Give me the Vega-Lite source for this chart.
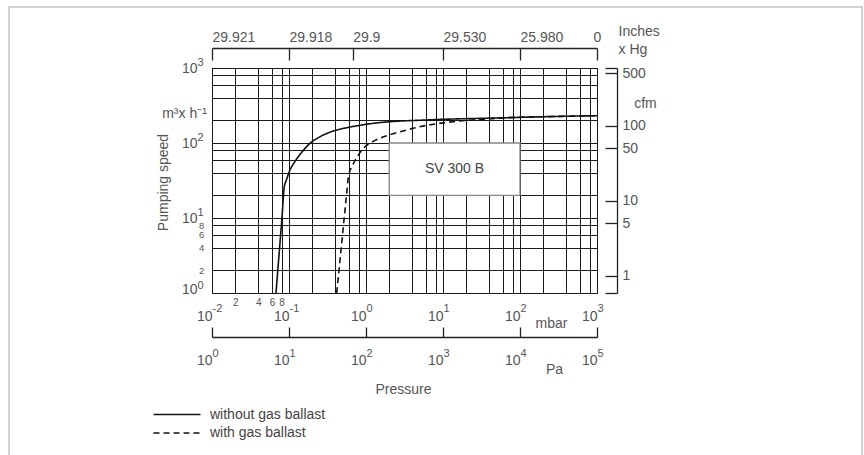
{
  "$schema": "https://vega.github.io/schema/vega-lite/v6.json",
  "width": 385,
  "height": 225,
  "autosize": {"type": "none"},
  "padding": {"left": 212, "top": 68, "right": 267, "bottom": 162},
  "background": "white",
  "data": {
    "values": [
      {"series": "without gas ballast", "p": 0.0678, "s": 1},
      {"series": "without gas ballast", "p": 0.0738, "s": 3},
      {"series": "without gas ballast", "p": 0.081, "s": 10},
      {"series": "without gas ballast", "p": 0.0868, "s": 26},
      {"series": "without gas ballast", "p": 0.0914, "s": 31},
      {"series": "without gas ballast", "p": 0.097, "s": 37},
      {"series": "without gas ballast", "p": 0.103, "s": 43.7},
      {"series": "without gas ballast", "p": 0.116, "s": 54},
      {"series": "without gas ballast", "p": 0.132, "s": 65.7},
      {"series": "without gas ballast", "p": 0.157, "s": 82},
      {"series": "without gas ballast", "p": 0.187, "s": 99},
      {"series": "without gas ballast", "p": 0.238, "s": 117},
      {"series": "without gas ballast", "p": 0.303, "s": 133},
      {"series": "without gas ballast", "p": 0.416, "s": 149},
      {"series": "without gas ballast", "p": 0.619, "s": 163},
      {"series": "without gas ballast", "p": 1.245, "s": 183},
      {"series": "without gas ballast", "p": 2, "s": 192},
      {"series": "without gas ballast", "p": 3, "s": 197},
      {"series": "without gas ballast", "p": 5, "s": 201},
      {"series": "without gas ballast", "p": 10, "s": 207},
      {"series": "without gas ballast", "p": 30, "s": 213},
      {"series": "without gas ballast", "p": 74, "s": 218},
      {"series": "without gas ballast", "p": 200, "s": 224},
      {"series": "without gas ballast", "p": 1000, "s": 231},
      {"series": "with gas ballast", "p": 0.416, "s": 1},
      {"series": "with gas ballast", "p": 0.464, "s": 3},
      {"series": "with gas ballast", "p": 0.521, "s": 10},
      {"series": "with gas ballast", "p": 0.558, "s": 20},
      {"series": "with gas ballast", "p": 0.59, "s": 35},
      {"series": "with gas ballast", "p": 0.68, "s": 52},
      {"series": "with gas ballast", "p": 0.794, "s": 69},
      {"series": "with gas ballast", "p": 0.97, "s": 89},
      {"series": "with gas ballast", "p": 1.2, "s": 103},
      {"series": "with gas ballast", "p": 1.52, "s": 116},
      {"series": "with gas ballast", "p": 2.0, "s": 128},
      {"series": "with gas ballast", "p": 2.7, "s": 140},
      {"series": "with gas ballast", "p": 4.1, "s": 157},
      {"series": "with gas ballast", "p": 6, "s": 171},
      {"series": "with gas ballast", "p": 11.1, "s": 188},
      {"series": "with gas ballast", "p": 20, "s": 200},
      {"series": "with gas ballast", "p": 40, "s": 210},
      {"series": "with gas ballast", "p": 74, "s": 218},
      {"series": "with gas ballast", "p": 200, "s": 224},
      {"series": "with gas ballast", "p": 1000, "s": 231}
    ]
  },
  "layer": [
    {
      "mark": {"type": "line", "stroke": "#111", "strokeWidth": 1.6, "interpolate": "monotone"},
      "encoding": {
        "x": {"field": "p", "type": "quantitative",
          "scale": {"type": "log", "domain": [0.01, 1000], "nice": false},
          "axis": {"orient": "bottom", "grid": true, "gridColor": "#1a1a1a", "gridWidth": 1, "gridOpacity": 1, "zindex": 0,
            "values": [0.01,0.02,0.04,0.06,0.08,0.1,0.2,0.4,0.6,0.8,1,2,4,6,8,10,20,40,60,80,100,200,400,600,800,1000],
            "labels": false, "ticks": false, "domain": false, "title": null}},
        "y": {"field": "s", "type": "quantitative",
          "scale": {"type": "log", "domain": [1, 1000], "nice": false},
          "axis": {"orient": "left", "grid": true, "gridColor": "#1a1a1a", "gridWidth": 1, "gridOpacity": 1, "zindex": 0,
            "values": [1,2,4,6,8,10,20,40,60,80,100,200,400,600,800,1000],
            "labels": false, "ticks": false, "domain": false, "title": null}},
        "strokeDash": {"field": "series", "type": "nominal",
          "scale": {"domain": ["without gas ballast", "with gas ballast"], "range": [[1, 0], [6, 4]]},
          "legend": {"orient": "none", "legendX": -46, "legendY": 335.5, "title": null,
            "symbolType": "M-2.35,0H2.35", "symbolSize": 400, "symbolStrokeWidth": 1.5, "symbolStrokeColor": "#111",
            "symbolFillColor": "transparent",
            "labelFontSize": 14, "labelColor": "#444", "labelOffset": 22, "padding": 0, "rowPadding": 0.5,
            "labelFont": "Liberation Sans"}}
      }
    },
    {
      "data": {"values": [{"x0": 2, "x1": 100, "y0": 20, "y1": 100}]},
      "mark": {"type": "rect", "fill": "white", "stroke": "#888", "strokeWidth": 1.3},
      "encoding": {
        "x": {"field": "x0", "type": "quantitative",
          "scale": {"type": "log", "domain": [0.01, 1000], "nice": false},
          "axis": {"orient": "bottom", "values": [0.01,0.1,1,10,100,1000], "labelExpr": "'10'", "labelAlign": "right",
            "labelDx": 3, "labelBaseline": "alphabetic", "labelPadding": 27, "labelFontSize": 14, "title": null}},
        "x2": {"field": "x1"},
        "y": {"field": "y0", "type": "quantitative",
          "scale": {"type": "log", "domain": [1, 1000], "nice": false},
          "axis": {"orient": "left", "values": [1,10,100,1000], "labelExpr": "'10'", "labelAlign": "right",
            "labelBaseline": "middle", "labelPadding": 15, "labelFontSize": 14,
            "labelOffset": {"condition": {"test": "datum.value == 1", "value": -4}, "value": 0},
            "title": "Pumping speed", "titleAngle": -90, "titleX": -49, "titleY": 114, "titleAlign": "center", "titleBaseline": "middle"}},
        "y2": {"field": "y1"}
      }
    },
    {
      "data": {"values": [{"tx": 14.1, "ty": 44.7, "label": "SV 300 B"}]},
      "mark": {"type": "text", "fontSize": 14, "font": "Liberation Sans", "color": "#444"},
      "encoding": {
        "x": {"field": "tx", "type": "quantitative",
          "scale": {"type": "log", "domain": [0.01, 1000], "nice": false},
          "axis": {"orient": "bottom", "values": [0.01,0.1,1,10,100,1000],
            "labelExpr": "'' + round(log(datum.value)/LN10)", "labelAlign": "left", "labelDx": 3,
            "labelBaseline": "alphabetic", "labelPadding": 18.5, "labelFontSize": 11,
            "title": "mbar", "titleX": 339, "titleY": 34, "titleAlign": "center", "titleBaseline": "alphabetic"}},
        "y": {"field": "ty", "type": "quantitative",
          "scale": {"type": "log", "domain": [1, 1000], "nice": false},
          "axis": {"orient": "left", "values": [1,10,100,1000],
            "labelExpr": "'' + round(log(datum.value)/LN10)", "labelAlign": "left",
            "labelBaseline": "alphabetic", "labelPadding": 15, "labelFontSize": 11,
            "labelOffset": {"condition": {"test": "datum.value == 1", "value": -5}, "value": -2.5},
            "title": "m³x h⁻¹", "titleAngle": 0, "titleX": -28, "titleY": 49, "titleAlign": "center", "titleBaseline": "alphabetic"}},
        "text": {"field": "label"}
      }
    },
    {
      "mark": {"type": "point", "opacity": 0},
      "encoding": {
        "x": {"field": "p", "type": "quantitative",
          "scale": {"type": "log", "domain": [0.01, 1000], "nice": false},
          "axis": {"orient": "bottom", "values": [0.02,0.04,0.06,0.08], "labelExpr": "'' + round(datum.value*100)",
            "labelAlign": "center", "labelBaseline": "alphabetic", "labelPadding": 12, "labelFontSize": 10, "title": null}},
        "y": {"field": "s", "type": "quantitative",
          "scale": {"type": "log", "domain": [1, 1000], "nice": false},
          "axis": {"orient": "left", "values": [2,4,6,8], "labelExpr": "'' + datum.value",
            "labelAlign": "left", "labelBaseline": "middle", "labelPadding": 13.5, "labelFontSize": 9.5, "title": null}},
        "color": {"field": "s", "type": "quantitative",
          "scale": {"range": ["transparent", "transparent"]},
          "legend": {"orient": "none", "direction": "horizontal", "legendX": -203, "legendY": -61, "padding": 0,
            "title": null, "labelExpr": "''", "labelFontSize": 1, "gradientLength": 853, "gradientThickness": 456,
            "gradientStrokeColor": "#c4c4c4", "gradientStrokeWidth": 1.5}}
      }
    },
    {
      "mark": {"type": "point", "opacity": 0},
      "encoding": {
        "x": {"field": "p", "type": "quantitative",
          "scale": {"type": "log", "domain": [0.01, 1000], "nice": false},
          "axis": {"orient": "bottom", "offset": 44, "domain": true, "domainColor": "#222", "domainWidth": 1.3,
            "ticks": true, "tickSize": -10, "tickColor": "#222", "tickWidth": 1.3,
            "values": [0.01,0.1,1,10,100,1000], "labelExpr": "'10'", "labelAlign": "right", "labelDx": 3,
            "labelBaseline": "alphabetic", "labelPadding": 37, "labelFontSize": 14,
            "title": "Pressure", "titleX": 191, "titleY": 56.5, "titleAlign": "center", "titleBaseline": "alphabetic"}},
        "y": {"field": "s", "type": "quantitative",
          "scale": {"type": "log", "domain": [1, 1000], "nice": false},
          "axis": {"orient": "right", "offset": 20, "domain": true, "domainColor": "#222", "domainWidth": 1.3,
            "ticks": true, "tickSize": -12, "tickColor": "#222", "tickWidth": 1.3,
            "values": [1,1.699,8.495,16.99,84.95,169.9,849.5,1000],
            "labelExpr": "(datum.value == 1 || datum.value == 1000) ? '' : '' + round(datum.value/1.699)",
            "labelAlign": "left", "labelBaseline": "middle", "labelPadding": 17, "labelFontSize": 14,
            "title": "cfm", "titleAngle": 0, "titleX": 28, "titleY": 39, "titleAlign": "center", "titleBaseline": "alphabetic"}}
      }
    },
    {
      "mark": {"type": "point", "opacity": 0},
      "encoding": {
        "x": {"field": "p", "type": "quantitative",
          "scale": {"type": "log", "domain": [0.01, 1000], "nice": false},
          "axis": {"orient": "bottom", "offset": 44, "values": [0.01,0.1,1,10,100,1000],
            "labelExpr": "'' + (round(log(datum.value)/LN10) + 2)", "labelAlign": "left", "labelDx": 3,
            "labelBaseline": "alphabetic", "labelPadding": 19.3, "labelFontSize": 11,
            "title": "Pa", "titleX": 342, "titleY": 36, "titleAlign": "center", "titleBaseline": "alphabetic"}},
        "y": {"field": "s", "type": "quantitative", "scale": {"type": "log", "domain": [1, 1000], "nice": false}, "axis": null}
      }
    },
    {
      "mark": {"type": "point", "opacity": 0},
      "encoding": {
        "x": {"field": "p", "type": "quantitative",
          "scale": {"type": "log", "domain": [0.01, 1000], "nice": false},
          "axis": {"orient": "top", "offset": 20, "domain": true, "domainColor": "#222", "domainWidth": 1.3,
            "ticks": true, "tickSize": -12, "tickColor": "#222", "tickWidth": 1.3,
            "values": [0.01,0.1,0.671,10,100,1000],
            "labelExpr": "datum.value == 0.01 ? '29.921' : datum.value == 0.1 ? '29.918' : datum.value == 0.671 ? '29.9' : datum.value == 10 ? '29.530' : datum.value == 100 ? '25.980' : '0'",
            "labelAlign": {"condition": {"test": "datum.value == 1000", "value": "center"}, "value": "left"},
            "labelBaseline": "alphabetic", "labelPadding": 19, "labelFontSize": 14,
            "title": ["Inches", "x Hg"], "titleX": 406, "titleY": -12.3, "titleAlign": "left", "titleBaseline": "alphabetic",
            "titleAngle": 0, "titleLineHeight": 17.5}},
        "y": {"field": "s", "type": "quantitative", "scale": {"type": "log", "domain": [1, 1000], "nice": false}, "axis": null}
      }
    }
  ],
  "resolve": {"axis": {"x": "independent", "y": "independent"}},
  "config": {
    "font": "Liberation Sans",
    "view": {"stroke": "#1a1a1a", "strokeWidth": 1},
    "axis": {
      "grid": false, "domain": false, "ticks": false, "labelOverlap": false, "labelFlush": false,
      "labelFont": "Liberation Sans", "labelColor": "#555", "titleFont": "Liberation Sans", "titleColor": "#555",
      "titleFontWeight": "normal", "titleFontSize": 14
    }
  }
}
